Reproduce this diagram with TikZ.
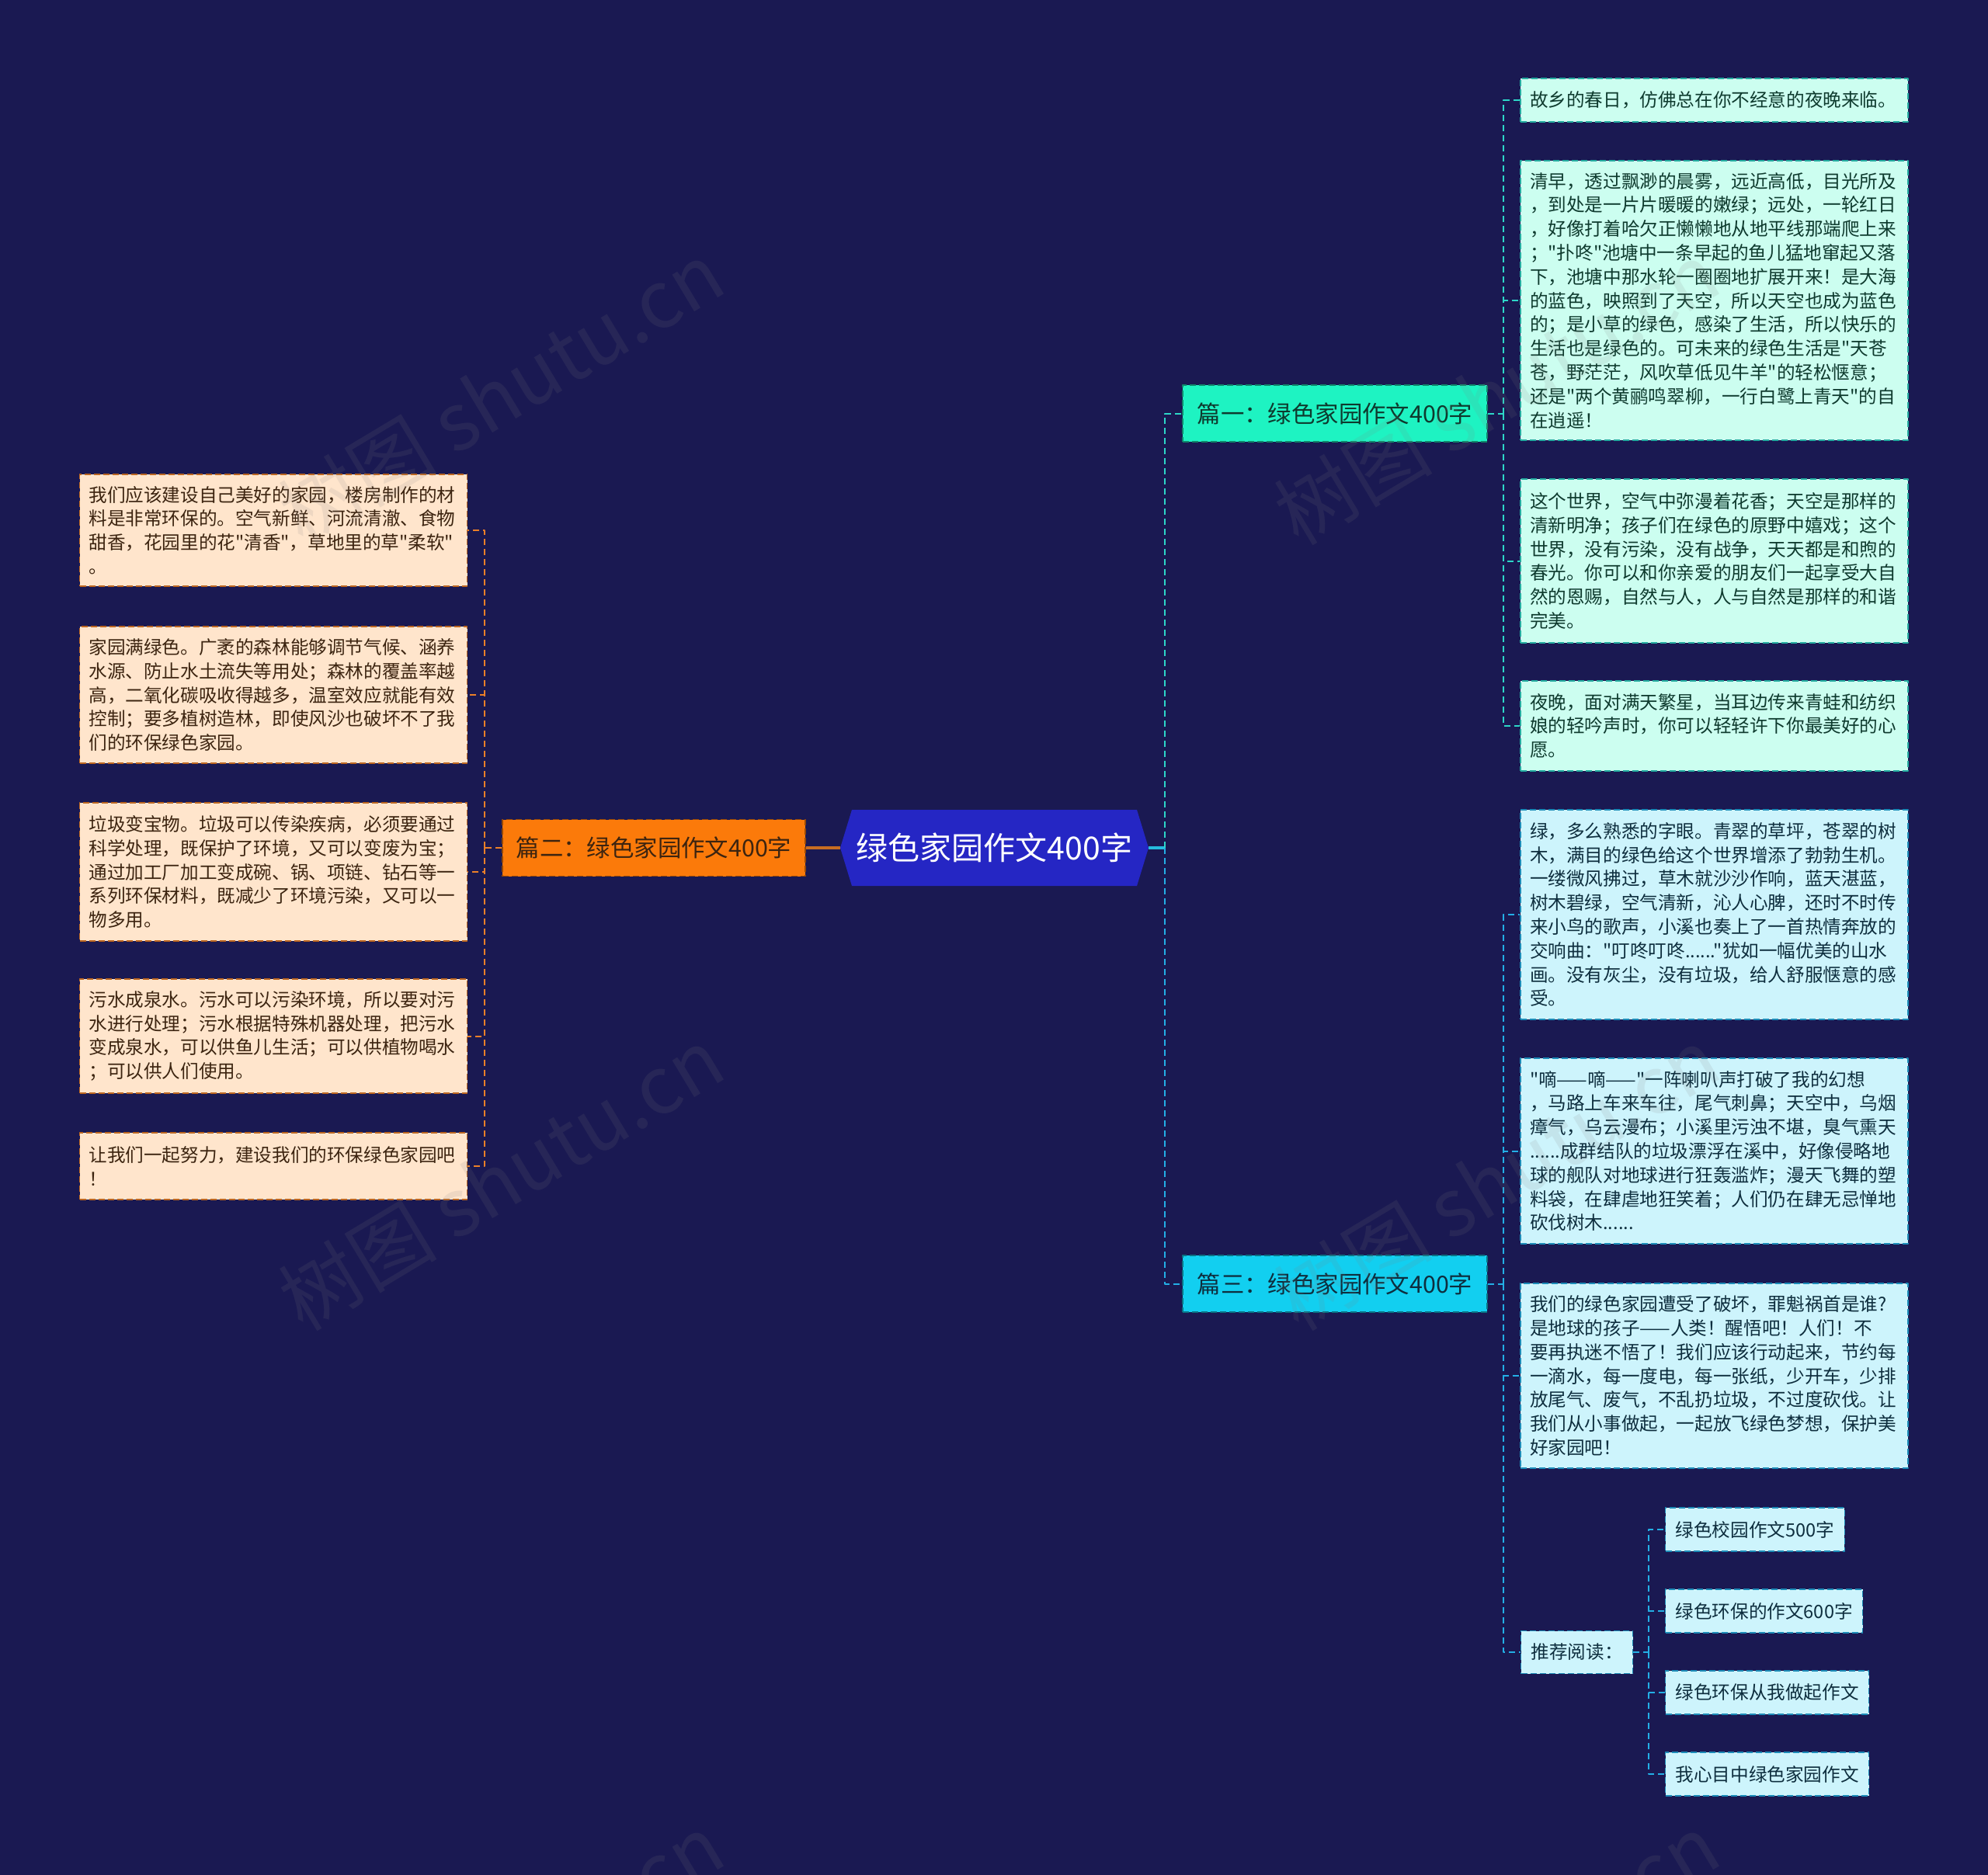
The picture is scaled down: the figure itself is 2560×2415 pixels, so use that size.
\documentclass[tikz,border=0pt]{standalone}
\usepackage{fontspec}
\setmainfont[Ligatures=TeXOff]{Noto Sans CJK SC}
\usetikzlibrary{shapes.symbols}

\definecolor{fondo}{RGB}{26,25,82}
\definecolor{raizazul}{RGB}{37,38,196}
\definecolor{naranja}{RGB}{251,122,10}
\definecolor{menta}{RGB}{30,243,194}
\definecolor{celeste}{RGB}{18,207,240}
\definecolor{durazno}{RGB}{255,229,204}
\definecolor{mentaclara}{RGB}{204,254,240}
\definecolor{celesteclaro}{RGB}{205,244,252}
\definecolor{lineanaranja}{RGB}{235,128,40}
\definecolor{lineamenta}{RGB}{45,215,200}
\definecolor{lineaceleste}{RGB}{35,175,230}
\definecolor{textocafe}{RGB}{60,36,16}
\definecolor{textoverde}{RGB}{14,58,46}
\definecolor{textoazul}{RGB}{14,46,62}

\tikzset{
  hoja/.style={draw, dash pattern=on 4pt off 2pt, line width=0.6pt, inner xsep=6pt, inner ysep=4pt,
    text width=237.5pt, align=left, font=\fontsize{11.8pt}{15.4pt}\selectfont},
  hojaL/.style={hoja, fill=durazno, draw=lineanaranja!80!black, text=textocafe},
  hojaA/.style={hoja, fill=mentaclara, draw=lineamenta!80!black, text=textoverde},
  hojaB/.style={hoja, fill=celesteclaro, draw=lineaceleste!80!black, text=textoazul},
  corta/.style={draw=lineaceleste!80!black, fill=celesteclaro, text=textoazul, dash pattern=on 4pt off 2pt,
    line width=0.6pt, anchor=west, inner xsep=6.5pt, minimum height=27.5pt, font=\fontsize{11.8pt}{15.4pt}\selectfont},
  rama/.style={dash pattern=on 4pt off 2pt, line width=0.6pt, minimum width=196pt, minimum height=36.5pt,
    font=\fontsize{15.2pt}{18pt}\selectfont},
  conL/.style={draw=lineanaranja, line width=1pt, dash pattern=on 4pt off 2.5pt},
  conA/.style={draw=lineamenta, line width=1pt, dash pattern=on 4pt off 2.5pt},
  conB/.style={draw=lineaceleste, line width=1pt, dash pattern=on 4pt off 2.5pt},
  marca/.style={text=gray, opacity=0.13, rotate=31, font=\fontsize{51pt}{51pt}\selectfont}
}

\begin{document}
\begin{tikzpicture}[x=0.5pt,y=-0.5pt,line join=round]
    % Fondo
    \fill[fondo] (0,0) rectangle (2560,2415);
    \useasboundingbox (0,0) rectangle (2560,2415);

    % Nodo central y ramas
    \node[signal, signal to=west and east, signal pointer angle=146, fill=raizazul, text=white,
      minimum width=198.5pt, minimum height=49pt, inner sep=0pt,
      font=\fontsize{20.5pt}{24pt}\selectfont] (raiz) at (1280.5,1092) {绿色家园作文400字};
    \node[rama, draw=naranja!60!black, fill=naranja, text=textocafe, minimum width=195pt] (p2) at (842,1092) {篇二：绿色家园作文400字};
    \node[rama, draw=menta!55!black, fill=menta, text=textoverde] (p1) at (1719,532.5) {篇一：绿色家园作文400字};
    \node[rama, draw=celeste!55!black, fill=celeste, text=textoazul] (p3) at (1719,1653.5) {篇三：绿色家园作文400字};

    % Hojas de la rama uno
    \node[hojaA, minimum height=28pt] (a1) at (2207.5,129) {故乡的春日，仿佛总在你不经意的夜晚来临。};
    \node[hojaA, minimum height=180pt] (a2) at (2207.5,387) {清早，透过飘渺的晨雾，远近高低，目光所及\\，到处是一片片暖暖的嫩绿；远处，一轮红日\\，好像打着哈欠正懒懒地从地平线那端爬上来\\；"扑咚"池塘中一条早起的鱼儿猛地窜起又落\\下，池塘中那水轮一圈圈地扩展开来！是大海\\的蓝色，映照到了天空，所以天空也成为蓝色\\的；是小草的绿色，感染了生活，所以快乐的\\生活也是绿色的。可未来的绿色生活是"天苍\\苍，野茫茫，风吹草低见牛羊"的轻松惬意；\\还是"两个黄鹂鸣翠柳，一行白鹭上青天"的自\\在逍遥！};
    \node[hojaA, minimum height=105.5pt] (a3) at (2207.5,722.5) {这个世界，空气中弥漫着花香；天空是那样的\\清新明净；孩子们在绿色的原野中嬉戏；这个\\世界，没有污染，没有战争，天天都是和煦的\\春光。你可以和你亲爱的朋友们一起享受大自\\然的恩赐，自然与人，人与自然是那样的和谐\\完美。};
    \node[hojaA, minimum height=58pt] (a4) at (2207.5,935) {夜晚，面对满天繁星，当耳边传来青蛙和纺织\\娘的轻吟声时，你可以轻轻许下你最美好的心\\愿。};

    % Hojas de la rama tres
    \node[hojaB, minimum height=135pt] (b1) at (2207.5,1178) {绿，多么熟悉的字眼。青翠的草坪，苍翠的树\\木，满目的绿色给这个世界增添了勃勃生机。\\一缕微风拂过，草木就沙沙作响，蓝天湛蓝，\\树木碧绿，空气清新，沁人心脾，还时不时传\\来小鸟的歌声，小溪也奏上了一首热情奔放的\\交响曲："叮咚叮咚......"犹如一幅优美的山水\\画。没有灰尘，没有垃圾，给人舒服惬意的感\\受。};
    \node[hojaB, minimum height=119.5pt] (b2) at (2207.5,1482.5) {"嘀——嘀——"一阵喇叭声打破了我的幻想\\，马路上车来车往，尾气刺鼻；天空中，乌烟\\瘴气，乌云漫布；小溪里污浊不堪，臭气熏天\\......成群结队的垃圾漂浮在溪中，好像侵略地\\球的舰队对地球进行狂轰滥炸；漫天飞舞的塑\\料袋，在肆虐地狂笑着；人们仍在肆无忌惮地\\砍伐树木......};
    \node[hojaB, minimum height=119pt] (b3) at (2207.5,1772) {我们的绿色家园遭受了破坏，罪魁祸首是谁?\\是地球的孩子——人类！醒悟吧！人们！不\\要再执迷不悟了！我们应该行动起来，节约每\\一滴水，每一度电，每一张纸，少开车，少排\\放尾气、废气，不乱扔垃圾，不过度砍伐。让\\我们从小事做起，一起放飞绿色梦想，保护美\\好家园吧！};
    \node[corta] (rec) at (1958,2128) {推荐阅读：};
    \node[corta, minimum height=28pt] (s1) at (2144,1970) {绿色校园作文500字};
    \node[corta, minimum height=28pt] (s2) at (2144,2075) {绿色环保的作文600字};
    \node[corta, minimum height=28pt] (s3) at (2144,2180) {绿色环保从我做起作文};
    \node[corta, minimum height=28pt] (s4) at (2144,2285) {我心目中绿色家园作文};

    % Hojas de la rama dos
    \node[hojaL, minimum height=72pt] (l1) at (352,683) {我们应该建设自己美好的家园，楼房制作的材\\料是非常环保的。空气新鲜、河流清澈、食物\\甜香，花园里的花"清香"，草地里的草"柔软"\\。};
    \node[hojaL, minimum height=88pt] (l2) at (352,895) {家园满绿色。广袤的森林能够调节气候、涵养\\水源、防止水土流失等用处；森林的覆盖率越\\高，二氧化碳吸收得越多，温室效应就能有效\\控制；要多植树造林，即使风沙也破坏不了我\\们的环保绿色家园。};
    \node[hojaL, minimum height=89pt] (l3) at (352,1123) {垃圾变宝物。垃圾可以传染疾病，必须要通过\\科学处理，既保护了环境，又可以变废为宝；\\通过加工厂加工变成碗、锅、项链、钻石等一\\系列环保材料，既减少了环境污染，又可以一\\物多用。};
    \node[hojaL, minimum height=73.5pt] (l4) at (352,1334.5) {污水成泉水。污水可以污染环境，所以要对污\\水进行处理；污水根据特殊机器处理，把污水\\变成泉水，可以供鱼儿生活；可以供植物喝水\\；可以供人们使用。};
    \node[hojaL, minimum height=43pt] (l5) at (352,1502) {让我们一起努力，建设我们的环保绿色家园吧\\！};

    % Conectores
    \coordinate (tr) at (1500,1092);
    \coordinate (j1) at (1936,532.5);
    \coordinate (j2) at (624,1092);
    \coordinate (j3) at (1936,1653.5);
    \coordinate (j4) at (2123,2128);
    \draw[lineaceleste!70!lineamenta, line width=1.6pt] (raiz.east) -- (tr);
    \draw[lineanaranja!85!black, line width=1.6pt] (raiz.west) -- (p2.east);
    \draw[conA] (tr) |- (p1.west);
    \draw[conB] (tr) |- (p3.west);
    \draw[conA] (p1.east) -- (j1);
    \foreach \h in {a1,a2,a3,a4} {
        \draw[conA] (j1) |- (\h.west);
    }
    \draw[conB] (p3.east) -- (j3);
    \foreach \h in {b1,b2,b3,rec} {
        \draw[conB] (j3) |- (\h.west);
    }
    \draw[conB] (rec.east) -- (j4);
    \foreach \h in {s1,s2,s3,s4} {
        \draw[conB] (j4) |- (\h.west);
    }
    \draw[conL] (p2.west) -- (j2);
    \foreach \h in {l1,l2,l3,l4,l5} {
        \draw[conL] (j2) |- (\h.east);
    }

    % Marcas de agua
    \foreach \mx in {645,1927} {
        \foreach \my in {506,1518,2531} {
            \node[marca] at (\mx,\my) {树图 shutu.cn};
        }
    }
\end{tikzpicture}
\end{document}
